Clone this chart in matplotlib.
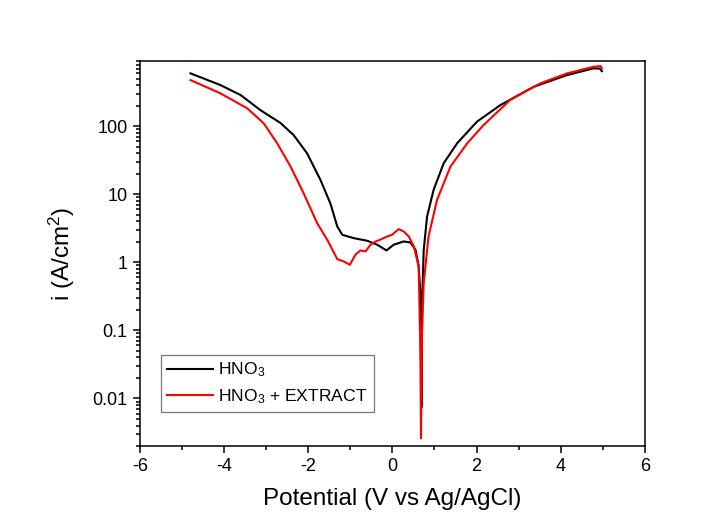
import numpy as np
import matplotlib
matplotlib.use("Agg")
import matplotlib.pyplot as plt
from matplotlib.ticker import FixedLocator, LogLocator, MultipleLocator, FuncFormatter

plt.rcParams['font.family'] = ['Liberation Sans', 'DejaVu Sans']
plt.rcParams['mathtext.fontset'] = 'custom'
plt.rcParams['mathtext.rm'] = 'Liberation Sans'
plt.rcParams['mathtext.it'] = 'Liberation Sans'
plt.rcParams['axes.unicode_minus'] = False

# Potentiodynamic polarisation curves (potential in V, current density in A/cm2)
pot_hno3 = [-4.80, -4.09, -3.61, -3.14, -2.66, -2.35, -2.03, -1.71, -1.47, -1.31,
            -1.19, -0.92, -0.60, -0.36, -0.14, 0.03, 0.27, 0.43, 0.55, 0.625,
            0.665, 0.69, 0.71, 0.745, 0.825, 0.98, 1.22, 1.54, 2.01, 2.57,
            3.36, 4.15, 4.78, 4.93, 4.98]
cur_hno3 = [595, 401, 286, 172, 111, 74, 40, 16.2, 7.2, 3.35,
            2.53, 2.26, 2.07, 1.81, 1.49, 1.81, 2.02, 1.95, 1.52, 0.87,
            0.36, 0.0074, 0.3, 1.52, 4.7, 11.6, 28.5, 56, 116, 204,
            378, 561, 705, 700, 640]

pot_extract = [-4.80, -4.09, -3.45, -3.06, -2.74, -2.42, -2.11, -1.79, -1.55, -1.31,
               -1.16, -1.01, -0.88, -0.76, -0.64, -0.52, -0.40, -0.29, -0.13, -0.01,
               0.15, 0.27, 0.39, 0.51, 0.625, 0.665, 0.68, 0.70, 0.745, 0.86,
               1.06, 1.38, 1.78, 2.17, 2.80, 3.52, 4.15, 4.78, 4.95, 4.98]
cur_extract = [474, 303, 182, 110, 56, 25.4, 10.3, 3.76, 2.14, 1.11,
               1.03, 0.92, 1.29, 1.49, 1.44, 1.81, 2.02, 2.14, 2.39, 2.53,
               3.07, 2.83, 2.39, 1.71, 0.87, 0.05, 0.0026, 0.08, 0.50, 2.39,
               8.2, 25.4, 56, 104, 242, 425, 594, 743, 760, 700]

y_ticks = [0.01, 0.1, 1, 10, 100]

fig = plt.figure(figsize=(7.18, 5.18), dpi=100)
ax = fig.add_axes([0.195, 0.139, 0.703, 0.743])

ax.plot(pot_hno3, cur_hno3, color='black', lw=1.5, label='HNO$_3$')
ax.plot(pot_extract, cur_extract, color='red', lw=1.5, label='HNO$_3$ + EXTRACT')

ax.set_yscale('log')
ax.set_xlim(-6, 6)
ax.set_ylim(2e-3, 9e2)

ax.xaxis.set_major_locator(MultipleLocator(2))
ax.xaxis.set_minor_locator(MultipleLocator(1))
ax.yaxis.set_major_locator(FixedLocator(y_ticks))
ax.yaxis.set_minor_locator(LogLocator(base=10, subs=np.arange(2, 10)))
ax.yaxis.set_major_formatter(FuncFormatter(lambda v, p: '%g' % v))
ax.yaxis.set_minor_formatter(FuncFormatter(lambda v, p: ''))

ax.tick_params(which='both', direction='out', top=False, right=False, labelsize=13, width=1.1)
ax.tick_params(which='major', length=5, pad=4)
ax.tick_params(which='minor', length=3)
for s in ax.spines.values():
    s.set_linewidth(1.1)

ax.set_xlabel('Potential (V vs Ag/AgCl)', fontsize=17.5, labelpad=9)
ax.set_ylabel('i (A/cm$^2$)', fontsize=17.5, labelpad=11)

leg = ax.legend(loc='lower left', bbox_to_anchor=(0.042, 0.088), fontsize=12.6,
                frameon=True, fancybox=False, handlelength=2.6, handletextpad=0.3,
                borderpad=0.35, labelspacing=0.45, borderaxespad=0)
leg.get_frame().set_edgecolor('#555555')
leg.get_frame().set_linewidth(0.9)

fig.savefig('out.png', dpi=100)
